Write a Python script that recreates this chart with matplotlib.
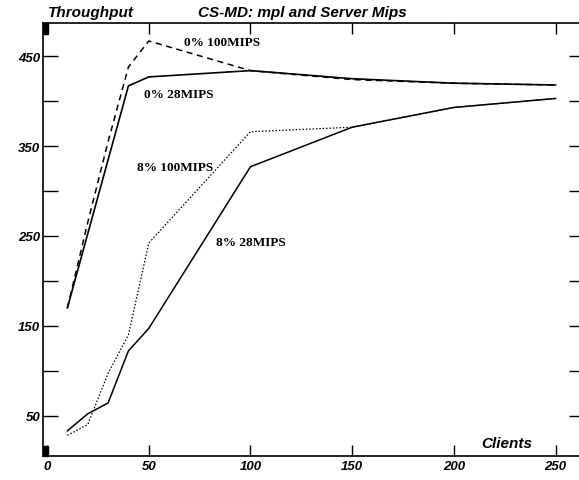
import matplotlib
matplotlib.use("Agg")
import matplotlib.pyplot as plt
from matplotlib.patches import Rectangle

clients_a = [10, 40, 50, 100, 150, 200, 250]
tp_0_28 = [170, 417, 427, 434, 425, 420, 418]

clients_b = [10, 20, 30, 40, 50, 100, 150, 200, 250]
tp_0_100 = [170, 265, 355, 438, 467, 434, 424, 420, 418]

clients_c = [10, 20, 30, 40, 50, 100, 150, 200, 250]
tp_8_28 = [33, 52, 64, 122, 147, 327, 371, 393, 403]
tp_8_100 = [28, 40, 97, 140, 242, 366, 371, 393, 403]

xticks = [0, 50, 100, 150, 200, 250]
yticks = [50, 150, 250, 350, 450]
yminor = [100, 200, 300, 400]

fig = plt.figure(figsize=(5.79, 4.81), dpi=100)
ax = fig.add_axes([43/579, 1-457/481, (584-43)/579, (457-24)/481])

ax.plot(clients_a, tp_0_28, color='black', lw=1.2, solid_joinstyle='miter')
ax.plot(clients_b, tp_0_100, color='black', lw=1.1, dashes=(4, 3))
ax.plot(clients_c, tp_8_28, color='black', lw=1.1)
ax.plot(clients_c, tp_8_100, color='black', lw=0.9, dashes=(1.2, 1.5))

ax.set_xlim(-2, 264)
ax.set_ylim(5, 487)
ax.set_xticks(xticks)
ax.set_yticks(yticks)
ax.set_yticks(yminor, minor=True)
tickfont = dict(family='Liberation Sans', style='italic', weight='bold', size=9.5)
ax.set_xticklabels([str(t) for t in xticks], fontdict=tickfont)
ax.set_yticklabels([str(t) for t in yticks], fontdict=tickfont)
ax.tick_params(which='both', direction='in', length=8, width=1.0,
               left=True, right=True, top=True, bottom=True,
               labelleft=True, labelbottom=True, pad=3)
ax.tick_params(axis='y', which='both', length=11, pad=2)
for s in ax.spines.values():
    s.set_linewidth(1.2)

lblfont = dict(family='Liberation Serif', weight='bold', size=9.5)
ax.text(86, 466, '0% 100MIPS', ha='center', va='center', **lblfont)
ax.text(65, 408, '0% 28MIPS', ha='center', va='center', **lblfont)
ax.text(63, 327, '8% 100MIPS', ha='center', va='center', **lblfont)
ax.text(100, 243, '8% 28MIPS', ha='center', va='center', **lblfont)

titlefont = dict(family='Liberation Sans', style='italic', weight='bold', size=11)
fig.text(48/579, 1-13/481, 'Throughput', ha='left', va='center', **titlefont)
fig.text(198/579, 1-13/481, 'CS-MD: mpl and Server Mips', ha='left', va='center', **titlefont)
ax.text(226, 20, 'Clients', ha='center', va='center', **titlefont)

ax.add_patch(Rectangle((0, 0.975), 0.01, 0.025, transform=ax.transAxes,
                       color='black', clip_on=False))
ax.add_patch(Rectangle((0, 0.0), 0.01, 0.023, transform=ax.transAxes,
                       color='black', clip_on=False))

fig.savefig('out.png', dpi=100)
